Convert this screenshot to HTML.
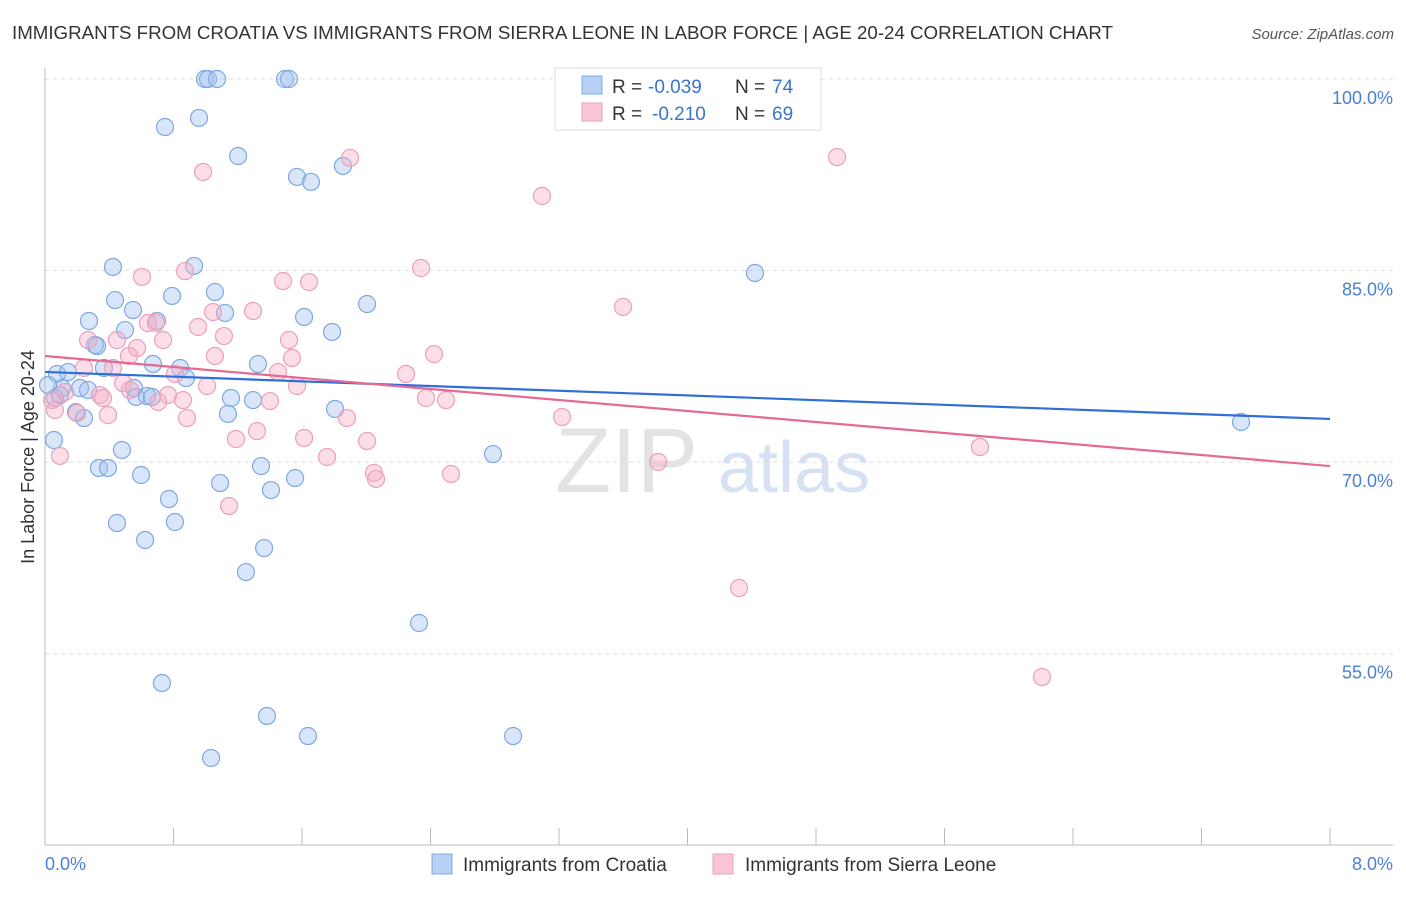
<!DOCTYPE html>
<html><head><meta charset="utf-8"><style>
body{margin:0;background:#fff;font-family:"Liberation Sans",sans-serif;}
svg text{font-family:"Liberation Sans",sans-serif;}
</style></head><body>
<svg id="chart" width="1406" height="892" xmlns="http://www.w3.org/2000/svg">
<text x="12" y="39" font-size="18" fill="#333" textLength="1101" lengthAdjust="spacingAndGlyphs">IMMIGRANTS FROM CROATIA VS IMMIGRANTS FROM SIERRA LEONE IN LABOR FORCE | AGE 20-24 CORRELATION CHART</text>
<text x="1394" y="39" font-size="15" fill="#555" text-anchor="end" font-style="italic">Source: ZipAtlas.com</text>
<g id="grid"></g>
<g><text x="555" y="492" font-size="92" fill="#e3e3e3" font-family="Liberation Serif">ZIP</text><text x="718" y="492" font-size="72" fill="#d6e2f3">atlas</text></g>
<g id="pts"></g>
<g id="trends"></g>
<text transform="translate(34,457) rotate(-90)" font-size="18" fill="#333" text-anchor="middle">In Labor Force | Age 20-24</text>
<text x="45" y="870" font-size="18" fill="#4a7fd4">0.0%</text>
<text x="1393" y="870" font-size="18" fill="#4a7fd4" text-anchor="end">8.0%</text>
<g>
<rect x="555" y="68" width="266" height="62" fill="#fff" stroke="#ddd"/>
<rect x="582" y="76" width="20" height="18" fill="#b8d0f3" stroke="#7fa8e0"/>
<rect x="582" y="103" width="20" height="18" fill="#f8c6d6" stroke="#eba0bb"/>
<text x="612" y="93" font-size="19" fill="#333">R =</text>
<text x="648" y="93" font-size="19" fill="#3a74d0">-0.039</text>
<text x="735" y="93" font-size="19" fill="#333">N =</text>
<text x="772" y="93" font-size="19" fill="#3a74d0">74</text>
<text x="612" y="120" font-size="19" fill="#333">R =</text>
<text x="652" y="120" font-size="19" fill="#3a74d0">-0.210</text>
<text x="735" y="120" font-size="19" fill="#333">N =</text>
<text x="772" y="120" font-size="19" fill="#3a74d0">69</text>
</g>
<g>
<rect x="432" y="854" width="20" height="20" fill="#b8d0f3" stroke="#7fa8e0"/>
<text x="463" y="871" font-size="19" fill="#333">Immigrants from Croatia</text>
<rect x="713" y="854" width="20" height="20" fill="#f8c6d6" stroke="#eba0bb"/>
<text x="745" y="871" font-size="19" fill="#333">Immigrants from Sierra Leone</text>
</g>
</svg>
<script>
const yTicks=[100,85,70,55];
const yTickLabels=["100.0%","85.0%","70.0%","55.0%"];
const xTicks=[0,0.8,1.6,2.4,3.2,4,4.8,5.6,6.4,7.2,8];
const croatiaX=[0.996,1.015,1.071,1.494,1.519,0.747,0.959,1.202,1.569,1.656,1.855,0.423,0.928,4.420,0.436,0.791,1.058,0.548,1.121,2.005,0.274,0.697,1.613,0.498,1.787,0.311,0.324,0.672,0.841,1.326,0.878,0.075,0.143,0.367,0.106,0.218,0.268,0.554,0.567,0.635,0.666,1.158,1.295,1.806,0.062,0.193,0.243,1.139,7.446,0.056,0.479,0.336,0.392,2.789,1.345,0.598,1.557,1.090,1.407,0.772,0.448,0.809,0.623,1.364,1.251,2.329,0.728,1.382,1.637,2.914,1.034,0.019,0.093];
const croatiaY=[100,100,100,100,100,96.24,96.95,93.97,92.33,91.94,93.19,85.28,85.36,84.81,82.69,83.01,83.32,81.91,81.68,82.38,81.05,81.05,81.36,80.34,80.19,79.17,79.09,77.68,77.37,77.68,76.58,76.90,77.05,77.37,75.80,75.80,75.65,75.80,75.10,75.18,75.10,75.02,74.86,74.16,75.02,73.92,73.45,73.77,73.14,71.73,70.95,69.54,69.54,70.63,69.69,68.99,68.75,68.36,67.81,67.11,65.23,65.31,63.90,63.27,61.39,57.40,52.70,50.12,48.55,48.55,46.83,76.04,75.25];
const sierraX=[0.984,1.899,3.094,4.931,0.604,0.872,1.482,1.644,2.341,3.599,1.295,1.046,0.641,0.691,0.953,1.114,0.268,0.448,0.735,1.519,0.573,0.523,1.058,1.538,2.422,0.243,0.423,0.809,1.451,2.248,0.486,1.009,1.569,0.342,0.529,0.766,0.361,0.125,0.704,0.859,2.372,2.497,1.401,0.884,0.392,0.199,1.880,3.219,1.189,1.320,1.613,2.005,5.821,0.093,1.756,2.048,2.061,2.528,3.817,1.146,4.321,6.207,0.044,0.062];
const sierraY=[92.72,93.82,90.84,93.89,84.50,84.96,84.18,84.10,85.20,82.15,81.83,81.75,80.89,80.89,80.58,79.87,79.56,79.56,79.56,79.56,78.93,78.31,78.31,78.15,78.46,77.37,77.37,76.90,77.05,76.90,76.19,75.96,75.96,75.25,75.64,75.25,75.02,75.49,74.71,74.86,75.02,74.86,74.78,73.45,73.69,73.84,73.45,73.53,71.81,72.43,71.89,71.65,71.18,70.48,70.40,69.15,68.68,69.07,70.01,66.56,60.14,53.17,74.86,74.08];
const trendXs=[0,8];
const croatiaTrend=[77.06,73.38];
const sierraTrend=[78.31,69.69];
const NS="http://www.w3.org/2000/svg";
function sx(v){return 45+v/8*1285;}
function sy(v){return 79+(100-v)*12.77;}
function mk(t,a,p){const e=document.createElementNS(NS,t);for(const k in a)e.setAttribute(k,a[k]);p.appendChild(e);return e;}
const grid=document.getElementById('grid');
yTicks.forEach((v,i)=>{
 const l=mk('line',{x1:45,x2:1393,y1:sy(v),y2:sy(v),stroke:'#ddd','stroke-dasharray':'4,4'},grid);
 
 
 const t=mk('text',{x:1393,y:sy(v)+25,'font-size':18,fill:'#4a7fd4','text-anchor':'end'},grid);
 t.textContent=yTickLabels[i];
 
 
});
const ax=mk('line',{x1:45,x2:1393,y1:845,y2:845,stroke:'#bbb'},grid);


const ay=mk('line',{x1:45,x2:45,y1:68,y2:845,stroke:'#bbb'},grid);


xTicks.forEach(v=>{
 const l=mk('line',{x1:sx(v),x2:sx(v),y1:828,y2:845,stroke:'#bbb'},grid);
 
 
});
const pts=document.getElementById('pts');
croatiaX.forEach((x,i)=>{
 const c=mk('circle',{cx:sx(x),cy:sy(croatiaY[i]),r:8.5,fill:'rgba(160,192,240,0.4)',stroke:'#7fa8e0','stroke-width':1.2},pts);
 
 
});
sierraX.forEach((x,i)=>{
 const c=mk('circle',{cx:sx(x),cy:sy(sierraY[i]),r:8.5,fill:'rgba(245,172,198,0.4)',stroke:'#eba0bb','stroke-width':1.2},pts);
 
 
});
const tr=document.getElementById('trends');
const l1=mk('line',{x1:sx(trendXs[0]),x2:sx(trendXs[1]),y1:sy(croatiaTrend[0]),y2:sy(croatiaTrend[1]),stroke:'#2f6fd6','stroke-width':2.2},tr);


const l2=mk('line',{x1:sx(trendXs[0]),x2:sx(trendXs[1]),y1:sy(sierraTrend[0]),y2:sy(sierraTrend[1]),stroke:'#e46a95','stroke-width':2.2},tr);


</script>
</body></html>
